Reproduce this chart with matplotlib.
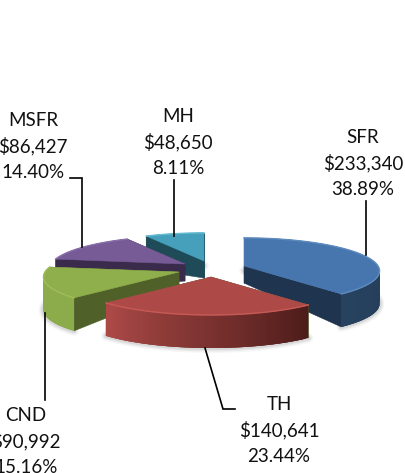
import numpy as np
import matplotlib
matplotlib.use("Agg")
import matplotlib.pyplot as plt
from matplotlib.patches import Polygon
from matplotlib.colors import to_rgb

# ---- data ----
categories = ["SFR", "TH", "CND", "MSFR", "MH"]
amounts = [233340, 140641, 90992, 86427, 48650]
percents = [38.89, 23.44, 15.16, 14.40, 8.11]

# ---- layout / style ----
W, H = 406, 473
A, B, K = 134.0, 32.3, 0.15      # ellipse axes and perspective strength
RIM_DEPTH, APEX_DEPTH = 33.0, 17.0
apex = {"SFR": (244, 266), "TH": (211, 277), "CND": (179, 272),
        "MSFR": (185, 264), "MH": (204, 261)}
top_col = {"SFR": "#4676ad", "TH": "#ad4a47", "CND": "#8fae4c",
           "MSFR": "#775b96", "MH": "#46a0bb"}
side_col = {"SFR": "#1f344f", "TH": "#4f6128", "CND": "#4f6128",
            "MSFR": "#3a2b4d", "MH": "#1f4a57"}
# outer wall colour at slice start and end (clockwise)
rim_col = {"SFR": ("#1e3450", "#27425f"), "TH": ("#4c1c1a", "#ad4a47"),
           "CND": ("#8cab4a", "#8cab4a"), "MSFR": ("#3a2b4d", "#3a2b4d"),
           "MH": ("#1f4a57", "#1f4a57")}
rim_light = {"SFR": "#5f8cc0", "TH": "#c85a56", "CND": "#a0bd5a",
             "MSFR": "#8a70a8", "MH": "#66bcd4"}
draw_order = ["MH", "MSFR", "CND", "SFR", "TH"]
label_pos = {"SFR": (363, 163), "TH": (279, 430), "CND": (26, 441),
             "MSFR": (33, 146), "MH": (178, 142)}
leaders = [[(70, 178), (82, 178), (82, 247)],
           [(174, 180), (174, 236)],
           [(366, 201), (366, 255)],
           [(45, 313), (45, 400)],
           [(205, 348), (223, 409), (235, 409)]]

plt.rcParams["font.family"] = ["Lato", "DejaVu Sans"]
fig = plt.figure(figsize=(W / 100, H / 100), dpi=100, facecolor="white")
ax = fig.add_axes([0, 0, 1, 1])
ax.set_xlim(0, W)
ax.set_ylim(H, 0)
ax.axis("off")


def project(theta, centre):
    """theta is clockwise from the top of the pie."""
    x, y = np.sin(theta), -np.cos(theta)
    s = 1.0 / (1.0 - K * y)
    return centre[0] + A * x * s, centre[1] + B * y * s


total = sum(amounts)
fractions = np.array(amounts) / total
edges = np.concatenate([[0], np.cumsum(fractions) * 2 * np.pi])
span = {c: (edges[i], edges[i + 1]) for i, c in enumerate(categories)}

# soft shadow under the walls
for c in categories:
    t = np.linspace(*span[c], 80)
    px, py = project(t, apex[c])
    for lw, al in ((7, 0.05), (5, 0.08), (3, 0.12)):
        ax.plot(px, py + RIM_DEPTH, color="#555555", lw=lw, alpha=al,
                solid_capstyle="round", zorder=1)

for n, c in enumerate(draw_order):
    z = 2 + n
    t0, t1 = span[c]
    centre = apex[c]
    # radial walls
    for t in (t0, t1):
        ox, oy = project(t, centre)
        ax.add_patch(Polygon([centre, (ox, oy), (ox, oy + RIM_DEPTH),
                              (centre[0], centre[1] + APEX_DEPTH)],
                             closed=True, fc=side_col[c], ec=side_col[c],
                             lw=0.4, zorder=z))
    # outer wall as overlapping gradient strips, so no seams show
    ts = np.linspace(t0, t1, 70)
    px, py = project(ts, centre)
    c0, c1 = (np.array(to_rgb(v)) for v in rim_col[c])
    for i in range(len(ts) - 1):
        f = i / (len(ts) - 2)
        col = c0 + (c1 - c0) * f
        j = min(i + 3, len(ts) - 1)
        ax.add_patch(Polygon(list(zip(px[i:j + 1], py[i:j + 1]))
                             + list(zip(px[i:j + 1][::-1], py[i:j + 1][::-1] + RIM_DEPTH)),
                             closed=True, fc=col, ec="none", zorder=z))
    # top face
    ax.add_patch(Polygon([centre] + list(zip(px, py)), closed=True,
                         fc=top_col[c], ec=top_col[c], lw=0.4, zorder=z))
    ax.plot(px, py, color=rim_light[c], lw=1.0, zorder=z)

for pts in leaders:
    xs, ys = zip(*pts)
    ax.plot(xs, ys, color="black", lw=1.2, zorder=20, solid_joinstyle="miter")

offset = matplotlib.transforms.ScaledTranslation
for c, a, p in zip(categories, amounts, percents):
    x, y = label_pos[c]
    for dy, s in zip((-26, 0, 26), (c, f"${a:,}", f"{p:.2f}%")):
        ax.text(x, y, s, ha="center", va="center", fontsize=13.5,
                color="#111111", zorder=21,
                transform=ax.transData + offset(0, -dy / 100, fig.dpi_scale_trans))

fig.savefig("out.png", dpi=100)
